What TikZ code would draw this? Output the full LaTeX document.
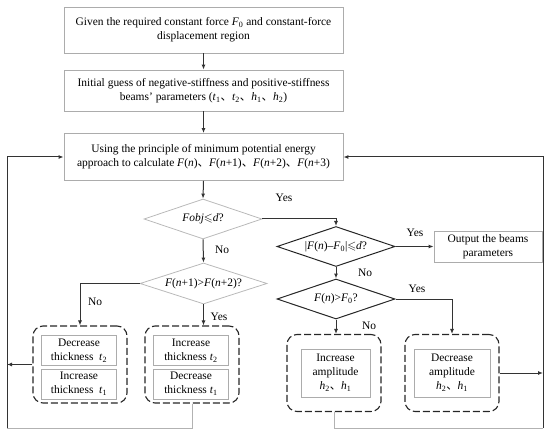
\documentclass[tikz,border=0pt]{standalone}
\usepackage{amssymb}
\usepackage{fontspec}
\setmainfont{Liberation Serif}
\newfontfamily\cjk{Noto Sans CJK SC}
\usetikzlibrary{shapes.geometric,arrows.meta}
\newcommand\fs{\fontsize{11.5}{14}\selectfont}
\newcommand\dun{{\cjk 、}}
\tikzset{
  box/.style={draw=gray!65, line width=0.8bp, align=center, inner sep=0pt, font=\fs},
  ibox/.style={draw=gray!65, line width=0.8bp, align=center, inner sep=0pt, font=\fs},
  dbox/.style={draw=black!85, line width=1.1bp, dash pattern=on 7bp off 3bp, rounded corners=10bp,
               minimum width=94bp, minimum height=77bp, inner sep=0pt},
  graydia/.style={diamond, shape aspect=3, draw=gray!55, line width=0.8bp, inner sep=0pt, font=\fs, align=center},
  blackdia/.style={diamond, shape aspect=3, draw=black!85, line width=1bp, inner sep=0pt, font=\fs, align=center},
  lbl/.style={font=\fs, inner sep=0pt},
  conn/.style={draw=black!80, line width=1bp},
  arr/.style={conn, -{Latex[length=5bp,width=4bp]}},
}
\begin{document}
\begin{tikzpicture}[x=1bp,y=-1bp]
\useasboundingbox (0,0) rectangle (550,436);
% main boxes
\node[box, minimum width=279bp, minimum height=46bp] (b1) at (203.5,30)
  {Given the required constant force \textit{F}\textsubscript{0} and constant-force\\displacement region};
\node[box, minimum width=279bp, minimum height=41bp] (b2) at (203.5,90.5)
  {Initial guess of negative-stiffness and positive-stiffness\\beams’ parameters (\textit{t}\textsubscript{1}\dun\textit{t}\textsubscript{2}\dun\textit{h}\textsubscript{1}\dun\textit{h}\textsubscript{2})};
\node[box, minimum width=279bp, minimum height=47bp] (b3) at (203.5,157)
  {Using the principle of minimum potential energy\\approach to calculate \textit{F}(\textit{n})\dun\textit{F}(\textit{n}+1)\dun\textit{F}(\textit{n}+2)\dun\textit{F}(\textit{n}+3)};
% decisions
\node[graydia, minimum width=118bp, minimum height=40bp] (d1) at (203,219)
  {\textit{Fobj}$\leqslant$\textit{d}?};
\node[graydia, minimum width=127bp, minimum height=41bp] (d2) at (203.5,283.5)
  {\textit{F}(\textit{n}+1)>\textit{F}(\textit{n}+2)?};
\node[blackdia, minimum width=118bp, minimum height=40bp] (d3) at (336,246.5)
  {|\textit{F}(\textit{n})–\textit{F}\textsubscript{0}|$\leqslant$\textit{d}?};
\node[blackdia, minimum width=118bp, minimum height=40bp] (d4) at (336,299)
  {\textit{F}(\textit{n})>\textit{F}\textsubscript{0}?};
\node[box, minimum width=108bp, minimum height=31bp] (out) at (488,246.5)
  {Output the beams\\parameters};
% dashed groups
\node[dbox] (g1) at (80,364.5) {};
\node[dbox] (g2) at (192,364.5) {};
\node[dbox] (g3) at (334,373) {};
\node[dbox] (g4) at (452,373) {};
\node[ibox, minimum width=75bp, minimum height=30bp] (g1a) at (79,350.5) {Decrease\\thickness~ \textit{t}\textsubscript{2}};
\node[ibox, minimum width=75bp, minimum height=30bp] (g1b) at (79,384) {Increase\\thickness~ \textit{t}\textsubscript{1}};
\node[ibox, minimum width=75bp, minimum height=30bp] (g2a) at (191,350.5) {Increase\\thickness \textit{t}\textsubscript{2}};
\node[ibox, minimum width=75bp, minimum height=30bp] (g2b) at (191,384) {Decrease\\thickness \textit{t}\textsubscript{1}};
\node[ibox, minimum width=69bp, minimum height=48bp] (g3a) at (335.5,373) {Increase\\amplitude\\\textit{h}\textsubscript{2}\dun\textit{h}\textsubscript{1}};
\node[ibox, minimum width=76bp, minimum height=48bp] (g4a) at (452,373) {Decrease\\amplitude\\\textit{h}\textsubscript{2}\dun\textit{h}\textsubscript{1}};
% loop corners
\coordinate (lt) at (7,157);
\coordinate (lb) at (7,428);
\coordinate (rt) at (543,157);
\coordinate (rb) at (543,428);
% connectors
\draw[arr] (b1.south) -- (b2.north);
\draw[arr] (b2.south) -- (b3.north);
\draw[arr] (b3.south) -- (d1.north);
\draw[arr] (d1.south) -- (d2.north);
\draw[arr] (d1.east) -| (d3.north);
\draw[arr] (d2.west) -| (g1.north);
\draw[arr] (d2.south) -- (d2.south |- g2.north);
\draw[arr] (d3.east) -- (d3.east -| out.west);
\draw[arr] (d3.south) -- (d4.north);
\draw[arr] (d4.east) -| (g4.north);
\draw[arr] (d4.south) -- (d4.south |- g3.north);
\draw[arr] (g4.east) -- (g4.east -| rt);
\draw[arr] (g1.west) -- (g1.west -| lt);
\draw[conn, draw=gray!60] (g3.south) |- (rb);
\draw[arr] (rb) -- (rt) -- (b3.east);
\draw[conn, draw=gray!60] (g2.south) |- (lb);
\draw[arr] (lb) -- (lt) -- (b3.west);
% labels
\node[lbl] (y1) at (284,198) {Yes};
\node[lbl] (n1) at (222,250) {No};
\node[lbl] (n2) at (95,302) {No};
\node[lbl] (y2) at (219,317) {Yes};
\node[lbl] (y3) at (415,233) {Yes};
\node[lbl] (n3) at (365,273) {No};
\node[lbl] (y4) at (417,289) {Yes};
\node[lbl] (n4) at (369,326) {No};
\end{tikzpicture}
\end{document}
